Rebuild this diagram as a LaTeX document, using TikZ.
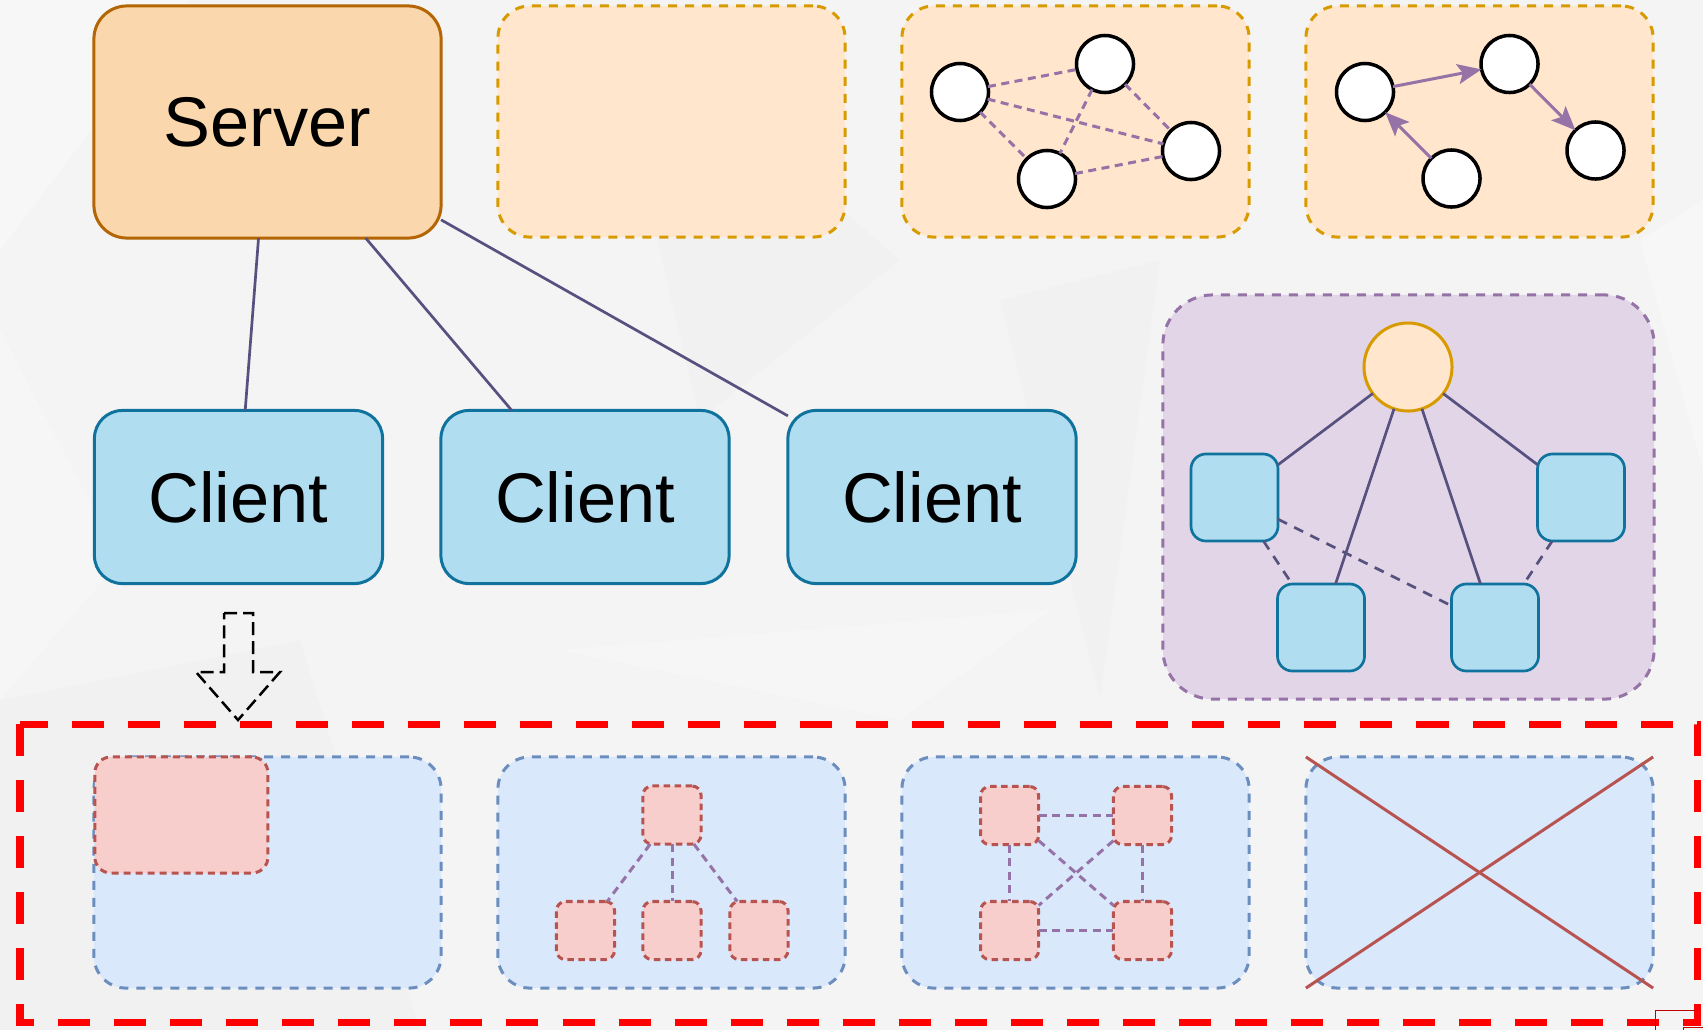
\documentclass[tikz,border=0pt]{standalone}
\usepackage{fontspec}
\setmainfont{Liberation Sans}
\usetikzlibrary{arrows.meta}

\definecolor{bgcol}{HTML}{F4F4F4}
\definecolor{srvfill}{HTML}{FAD7AC}
\definecolor{srvline}{HTML}{B46504}
\definecolor{orfill}{HTML}{FFE6CC}
\definecolor{orline}{HTML}{D79B00}
\definecolor{clfill}{HTML}{B1DDF0}
\definecolor{clline}{HTML}{10739E}
\definecolor{pufill}{HTML}{E1D5E7}
\definecolor{puline}{HTML}{9673A6}
\definecolor{linkcol}{HTML}{56517E}
\definecolor{blfill}{HTML}{DAE8FC}
\definecolor{blline}{HTML}{6C8EBF}
\definecolor{pkfill}{HTML}{F8CECC}
\definecolor{pkline}{HTML}{B85450}

\tikzset{
  bigtext/.style={font=\fontsize{20}{24}\selectfont},
  serverbox/.style={draw=srvline, fill=srvfill, line width=0.03cm, rounded corners=0.33cm,
    minimum width=3.47cm, minimum height=2.32cm, inner sep=0pt, outer sep=0pt, bigtext},
  clientbox/.style={draw=clline, fill=clfill, line width=0.03cm, rounded corners=0.28cm,
    minimum width=2.88cm, minimum height=1.73cm, inner sep=0pt, outer sep=0pt, bigtext},
  panel/.style={rounded corners=0.32cm, minimum width=3.47cm, minimum height=2.31cm,
    inner sep=0pt, outer sep=0pt, line width=0.03cm, dash pattern=on 0.09cm off 0.08cm},
  orpanel/.style={panel, draw=orline, fill=orfill},
  blpanel/.style={panel, draw=blline, fill=blfill},
  peer/.style={circle, draw=black, fill=white, line width=0.035cm, minimum size=0.57cm,
    inner sep=0pt, outer sep=0pt},
  dashlink/.style={draw=puline, line width=0.03cm, dash pattern=on 0.08cm off 0.055cm},
  arrowlink/.style={draw=puline, line width=0.03cm,
    -{Stealth[length=0.24cm, width=0.2cm, inset=0.05cm]}},
  solidlink/.style={draw=linkcol, line width=0.027cm},
  hubsq/.style={draw=clline, fill=clfill, line width=0.027cm, rounded corners=0.15cm,
    minimum size=0.87cm, inner sep=0pt, outer sep=0pt},
  hubdash/.style={draw=linkcol, line width=0.027cm, dash pattern=on 0.1cm off 0.08cm},
  pinkbox/.style={draw=pkline, fill=pkfill, line width=0.03cm, rounded corners=0.09cm,
    dash pattern=on 0.065cm off 0.045cm, minimum width=0.58cm, minimum height=0.58cm,
    inner sep=0pt, outer sep=0pt},
}

\begin{document}
\begin{tikzpicture}[x=0.01cm, y=-0.01cm]
  % canvas and faint low-poly backdrop
  \fill[bgcol] (0,0) rectangle (1703,1030);
  \useasboundingbox (0,0) rectangle (1703,1030);
  \fill[white, opacity=0.35] (0,0) -- (190,0) -- (0,250) -- cycle;
  \fill[white, opacity=0.25] (0,330) -- (120,560) -- (0,700) -- cycle;
  \fill[black, opacity=0.012] (0,700) -- (300,640) -- (420,1030) -- (0,1030) -- cycle;
  \fill[white, opacity=0.25] (560,650) -- (1050,610) -- (900,720) -- cycle;
  \fill[black, opacity=0.01] (600,0) -- (900,260) -- (700,420) -- cycle;
  \fill[white, opacity=0.3] (1640,240) -- (1703,200) -- (1703,470) -- cycle;
  \fill[black, opacity=0.01] (1000,300) -- (1160,260) -- (1100,700) -- cycle;

  % server and clients
  \node[serverbox] (server) at (267.5,122) {Server};
  \node[clientbox] (cl1) at (238.5,497) {Client};
  \node[clientbox] (cl2) at (585,497) {Client};
  \node[clientbox] (cl3) at (932,497) {Client};
  \draw[solidlink] (server) -- (cl1);
  \draw[solidlink] (server) -- (cl2);
  \draw[solidlink] (server) -- (cl3);

  % top row panels
  \node[orpanel] (tp2) at (671.5,121.5) {};
  \node[orpanel] (tp3) at (1075.5,121.5) {};
  \node[orpanel] (tp4) at (1479.5,121.5) {};

  % fully meshed peers
  \node[peer] (pa) at (960,92) {};
  \node[peer] (pb) at (1105,64) {};
  \node[peer] (pc) at (1047,179) {};
  \node[peer] (pd) at (1191,151) {};
  \draw[dashlink] (pa) -- (pb);
  \draw[dashlink] (pa) -- (pc);
  \draw[dashlink] (pa) -- (pd);
  \draw[dashlink] (pb) -- (pc);
  \draw[dashlink] (pb) -- (pd);
  \draw[dashlink] (pc) -- (pd);

  % chain of directed peers
  \node[peer] (qe) at (1365,92) {};
  \node[peer] (qf) at (1509.5,64) {};
  \node[peer] (qg) at (1451.5,178.5) {};
  \node[peer] (qh) at (1595.5,150.5) {};
  \draw[arrowlink] (qe) -- (qf);
  \draw[arrowlink] (qf) -- (qh);
  \draw[arrowlink] (qg) -- (qe);

  % hub with clients
  \node[draw=puline, fill=pufill, line width=0.03cm, dash pattern=on 0.09cm off 0.08cm,
        rounded corners=0.5cm, minimum width=4.91cm, minimum height=4.04cm,
        inner sep=0pt, outer sep=0pt] (hubpanel) at (1408.5,497) {};
  \node[circle, draw=orline, fill=orfill, line width=0.03cm, minimum size=0.88cm,
        inner sep=0pt, outer sep=0pt] (hub) at (1408,367) {};
  \node[hubsq] (s1) at (1234.5,497.5) {};
  \node[hubsq] (s2) at (1581,497.5) {};
  \node[hubsq] (s3) at (1321,627.5) {};
  \node[hubsq] (s4) at (1495,627.5) {};
  \draw[solidlink] (hub) -- (s1);
  \draw[solidlink] (hub) -- (s2);
  \draw[solidlink] (hub) -- (s3);
  \draw[solidlink] (hub) -- (s4);
  \draw[hubdash] (s1) -- (s3);
  \draw[hubdash] (s1) -- (s4);
  \draw[hubdash] (s2) -- (s4);

  % hollow dashed down arrow
  \draw[black, line width=0.025cm, dash pattern=on 0.13cm off 0.06cm]
    (224,613) -- (253,613) -- (253,672) -- (280,672) -- (238,720) -- (196,672) -- (224,672) -- cycle;

  % bottom row panels
  \node[blpanel] (bp1) at (267.5,872.5) {};
  \node[blpanel] (bp2) at (671.5,872.5) {};
  \node[blpanel] (bp3) at (1075.5,872.5) {};
  \node[blpanel] (bp4) at (1479.5,872.5) {};

  \node[pinkbox, rounded corners=0.16cm, minimum width=1.73cm, minimum height=1.16cm,
        dash pattern=on 0.07cm off 0.05cm] (big) at (181.4,815) {};

  % tree
  \node[pinkbox] (t0) at (672,815) {};
  \node[pinkbox] (t1) at (585.5,930.5) {};
  \node[pinkbox] (t2) at (672,930.5) {};
  \node[pinkbox] (t3) at (759,930.5) {};
  \draw[dashlink] (t0) -- (t1);
  \draw[dashlink] (t0) -- (t2);
  \draw[dashlink] (t0) -- (t3);

  % mesh
  \node[pinkbox] (m1) at (1009.6,815.5) {};
  \node[pinkbox] (m2) at (1142.5,815.5) {};
  \node[pinkbox] (m3) at (1009.6,930.5) {};
  \node[pinkbox] (m4) at (1142.5,930.5) {};
  \draw[dashlink] (m1) -- (m2);
  \draw[dashlink] (m3) -- (m4);
  \draw[dashlink] (m1) -- (m3);
  \draw[dashlink] (m2) -- (m4);
  \draw[dashlink] (m1) -- (m4);
  \draw[dashlink] (m2) -- (m3);

  % crossed-out panel
  \draw[pkline, line width=0.03cm] (bp4.north west) -- (bp4.south east);
  \draw[pkline, line width=0.03cm] (bp4.south west) -- (bp4.north east);

  % frame around the bottom row
  \draw[red, line width=0.07cm, dash pattern=on 0.32cm off 0.24cm]
    (20,724) rectangle (1697,1022);

  % small mark in the corner
  \draw[red!75!black, line width=0.01cm] (1655,1030) -- (1655,1010) -- (1697,1010);
  \draw[red!75!black, line width=0.01cm] (1683,1030) -- (1683,1027) -- (1703,1027);
\end{tikzpicture}
\end{document}
